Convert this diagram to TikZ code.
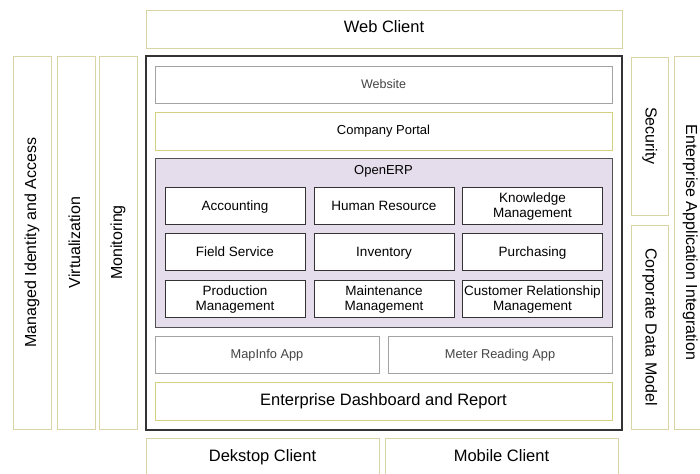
\documentclass[tikz,border=0pt]{standalone}
\usepackage{fontspec}
\setmainfont{Liberation Sans}
\definecolor{ybord}{HTML}{D9D4A6}
\definecolor{ybord2}{HTML}{D6D182}
\definecolor{gbord}{HTML}{A3A3A3}
\definecolor{erpfill}{HTML}{E5DDEB}
\definecolor{dark}{HTML}{333333}
\definecolor{gtext}{HTML}{444444}
\newcommand\twolines[2]{\raisebox{0pt}[\dimexpr\height+3pt\relax]{\begin{tabular}{@{}c@{}}#1\\#2\end{tabular}}}
\begin{document}
\begin{tikzpicture}[x=1pt,y=-1pt,
  base/.style={rectangle, inner sep=0pt, align=center, fill=white, line width=0.9pt},
  one/.style={text height=1.0em, text depth=0.2em},
  onem/.style={text height=1.1em, text depth=0.2em},
  ybox/.style={base, draw=ybord},
  ybox2/.style={base, draw=ybord2},
  gbox/.style={base, draw=gbord, text=gtext},
  mod/.style={base, draw=dark, line width=0.9pt, font=\fontsize{13.5}{15}\selectfont, minimum width=140pt, minimum height=37pt},
  big/.style={font=\fontsize{16.5}{18}\selectfont, one},
  side/.style={font=\fontsize{16}{18}\selectfont, one},
  small/.style={font=\fontsize{12.8}{14}\selectfont, one}]
\useasboundingbox (0,0) rectangle (700,473);
\clip (0,0) rectangle (700,473);
% top client
\node[ybox, big, minimum width=476pt, minimum height=38pt] (web) at (384,29) {Web Client};
% main container
\node[rectangle, draw=dark, line width=2.4pt, fill=white, minimum width=476pt, minimum height=374pt, inner sep=0pt] (main) at (384,243) {};
% left columns
\node[ybox, side, rotate=90, minimum width=373pt, minimum height=38pt] (mia) at (32,242.5) {Managed Identity and Access};
\node[ybox, side, rotate=90, minimum width=373pt, minimum height=38pt] (virt) at (76,242.5) {Virtualization};
\node[ybox, side, rotate=90, minimum width=373pt, minimum height=38pt] (mon) at (118,242.5) {Monitoring};
% right columns
\node[ybox, side, rotate=-90, minimum width=158pt, minimum height=37pt] (sec) at (649.5,136) {Security};
\node[ybox, side, rotate=-90, minimum width=204pt, minimum height=37pt] (cdm) at (649.5,327) {Corporate Data Model};
\node[ybox, side, rotate=-90, minimum width=373pt, minimum height=32pt] (eai) at (690,242.5) {Enterprise Application Integration};
% inner rows
\node[gbox, small, font=\fontsize{12.5}{14}\selectfont, minimum width=457pt, minimum height=37pt] (website) at (383.5,84.5) {Website};
\node[ybox2, small, font=\fontsize{13}{14}\selectfont, minimum width=457pt, minimum height=38pt] (portal) at (383.5,131) {Company Portal};
\node[rectangle, draw=dark!85, fill=erpfill, line width=0.9pt, minimum width=457pt, minimum height=169pt, inner sep=0pt] (erp) at (383.5,242.5) {};
\node[font=\fontsize{13}{14}\selectfont, one, inner sep=0pt] (erplabel) at (383.5,171) {OpenERP};
% modules
\node[mod, onem] (acc) at (235,205.5) {Accounting};
\node[mod, onem] (hr) at (384,205.5) {Human Resource};
\node[mod] (km) at (532.5,205.5) {\twolines{Knowledge}{Management}};
\node[mod, onem] (fs) at (235,252) {Field Service};
\node[mod, onem] (inv) at (384,252) {Inventory};
\node[mod, onem] (pur) at (532.5,252) {Purchasing};
\node[mod] (pm) at (235,298.5) {\twolines{Production}{Management}};
\node[mod] (mm) at (384,298.5) {\twolines{Maintenance}{Management}};
\node[mod] (crm) at (532.5,298.5) {\twolines{Customer Relationship}{Management}};
% apps
\node[gbox, small, minimum width=224pt, minimum height=37pt] (mapinfo) at (267,354.5) {MapInfo App};
\node[gbox, small, minimum width=224pt, minimum height=37pt] (meter) at (500,354.5) {Meter Reading App};
\node[ybox2, big, minimum width=457pt, minimum height=38pt] (dash) at (383.5,401) {Enterprise Dashboard and Report};
% bottom clients
\node[ybox, big, minimum width=233pt, minimum height=38pt] (desk) at (262.5,457) {Dekstop Client};
\node[ybox, big, minimum width=233pt, minimum height=38pt] (mob) at (501.5,457) {Mobile Client};
\end{tikzpicture}
\end{document}
